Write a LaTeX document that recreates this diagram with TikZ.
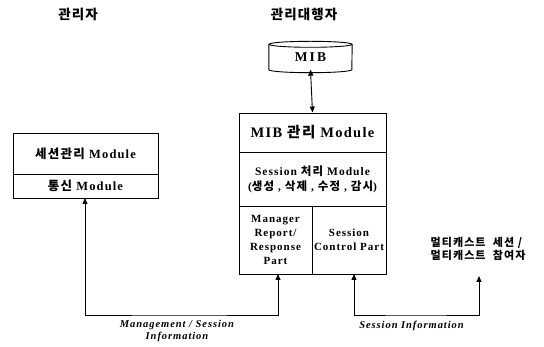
\documentclass[tikz,border=0pt]{standalone}
\usepackage{fontspec}
\setmainfont{Liberation Serif}[LetterSpace=9]
\newfontfamily\kr{Noto Sans CJK KR}[LetterSpace=10]
\newfontfamily\krh{Noto Sans CJK KR}[LetterSpace=8]
\usetikzlibrary{arrows.meta}
\tikzset{
  x=1pt,y=-1pt,
  cell/.style={draw,line width=0.9pt,inner sep=0pt,align=center,font=\bfseries},
  conn/.style={line width=0.9pt,{Triangle[length=6pt,width=5pt]}-{Triangle[length=6pt,width=5pt]}},
  lbl/.style={font=\bfseries\itshape\fontsize{10.5}{12}\selectfont,align=center},
  hdr/.style={font=\krh\bfseries\fontsize{13.5}{14}\selectfont}
}
\begin{document}
\begin{tikzpicture}
\useasboundingbox (0,0) rectangle (544,347);
% headers
\node[hdr] (h1) at (78,14) {관리자};
\node[hdr] (h2) at (304,14) {관리대행자};
% MIB cylinder
\node[font=\bfseries\fontsize{13.5}{14}\selectfont,minimum width=83pt,minimum height=25pt,inner sep=0pt] (mib) at (310.5,57) {M\,I\,B};
\draw[line width=0.9pt] (mib.north west) -- (mib.south west) arc[start angle=180,end angle=360,x radius=41.5pt,y radius=3pt] -- (mib.north east);
\draw[line width=0.9pt] (mib.north) ellipse[x radius=41.5pt,y radius=3pt];
% agent box
\node[cell,minimum width=147pt,minimum height=39pt,font=\bfseries\fontsize{14.5}{15}\selectfont] (mibmod) at (312.5,132.5) {MIB {\kr 관리} Module};
\node[cell,minimum width=147pt,minimum height=54pt,font=\bfseries\fontsize{11.5}{15}\selectfont] (sess) at (312.5,179) {Session {\kr 처리} Module\\({\kr 생성} , {\kr 삭제} , {\kr 수정} , {\kr 감시})};
\node[cell,minimum width=73pt,minimum height=68pt,font=\bfseries\fontsize{11}{14}\selectfont] (mgr) at (275.5,240) {Manager\\Report/\\Response\\Part};
\node[cell,minimum width=74pt,minimum height=68pt,font=\bfseries\fontsize{11}{14}\selectfont] (ctl) at (349,240) {Session\\Control Part};
% manager box
\node[cell,minimum width=145pt,minimum height=41pt,font=\bfseries\fontsize{12.5}{13}\selectfont] (smod) at (85.5,153.5) {{\kr 세션관리}\ Module};
\node[cell,minimum width=145pt,minimum height=24pt,font=\bfseries\fontsize{12.5}{13}\selectfont] (cmod) at (85.5,186) {{\kr 통신}\ Module};
% multicast
\node[font=\kr\bfseries\fontsize{11}{13}\selectfont,align=left] (mc) at (478,249) {멀티캐스트\ \ 세션 /\\멀티캐스트\ \ 참여자};
% connectors
\draw[conn] (mib.south) -- (mibmod.north);
\coordinate (a1) at (85,198);
\coordinate (a2) at (278,274);
\draw[conn] (a1) |- (177,315) -| (a2);
\coordinate (b1) at (354,274);
\coordinate (b2) at (479,276);
\draw[conn] (b1) |- (415,315) -| (b2);
% labels
\node[lbl] (l1) at (177,331) {Management / Session\\Information};
\node[lbl] (l2) at (411.5,326) {Session Information};
\end{tikzpicture}
\end{document}
